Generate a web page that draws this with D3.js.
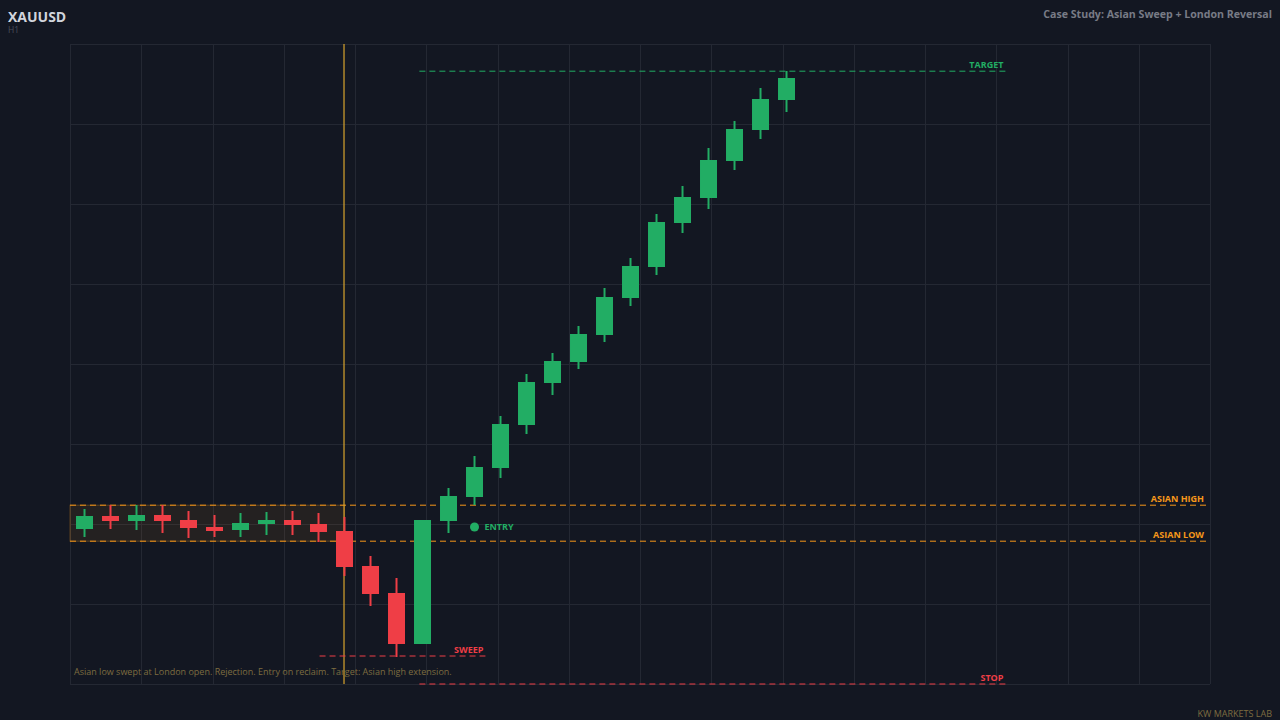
<!DOCTYPE html>
<html>
<head>
<meta charset="utf-8">
<script src="https://cdn.jsdelivr.net/npm/d3@7"></script>
<style>
	html, body { margin: 0; padding: 0; background: #131722; }
	svg { display: block; font-family: "Open Sans", "Noto Sans", sans-serif; }
</style>
</head>
<body>
<svg id="chart" width="1280" height="720"></svg>
<script>
// candles: [open, high, low, close]
const candles = [
	[2338.75, 2343.75, 2336.75, 2342.00],
	[2342.00, 2344.75, 2338.75, 2340.75],
	[2340.75, 2344.75, 2338.50, 2342.25],
	[2342.25, 2344.75, 2337.75, 2340.75],
	[2341.00, 2343.25, 2336.50, 2339.00],
	[2339.25, 2342.25, 2336.75, 2338.25],
	[2338.50, 2342.75, 2336.75, 2340.25],
	[2340.00, 2343.00, 2337.25, 2341.00],
	[2341.00, 2343.25, 2337.25, 2339.75],
	[2340.00, 2342.75, 2335.50, 2338.00],
	[2338.25, 2341.75, 2327.00, 2329.25],
	[2329.50, 2332.00, 2319.50, 2322.50],
	[2322.75, 2326.50, 2306.75, 2310.00],
	[2310.00, 2341.00, 2310.00, 2341.00],
	[2340.75, 2349.00, 2337.75, 2347.00],
	[2346.75, 2357.00, 2344.75, 2354.25],
	[2354.00, 2367.00, 2351.50, 2365.00],
	[2364.75, 2377.50, 2362.50, 2375.50],
	[2375.25, 2382.75, 2372.25, 2380.75],
	[2380.50, 2389.50, 2378.75, 2387.50],
	[2387.25, 2399.00, 2385.50, 2396.75],
	[2396.50, 2406.50, 2394.50, 2404.50],
	[2404.25, 2417.50, 2402.25, 2415.50],
	[2415.25, 2424.50, 2412.75, 2421.75],
	[2421.50, 2434.00, 2418.75, 2431.00],
	[2430.75, 2440.75, 2428.50, 2438.75],
	[2438.50, 2449.00, 2436.25, 2446.25],
	[2446.00, 2453.25, 2443.00, 2451.50]
];

const asianHigh = 2344.7;
const asianLow = 2335.7;
const londonOpenIdx = 10;
const entry = { i: 15, price: 2339.25 };

// horizontal levels: label, price, from/to candle index, kind
const levels = [
	{ label: "TARGET", price: 2453.2, from: 12.88, to: 35.42, kind: "target" },
	{ label: "SWEEP", price: 2307.0, from: 9.04, to: 15.42, kind: "risk" },
	{ label: "STOP", price: 2300.0, from: 12.88, to: 35.42, kind: "risk" }
];

const priceDomain = [2300, 2460];
const priceTicks = [2300, 2320, 2340, 2360, 2380, 2400, 2420, 2440, 2460];
const timeGridCount = 16;

const titleText = "XAUUSD";
const tfText = "H1";
const caseText = "Case Study: Asian Sweep + London Reversal";
const noteText = "Asian low swept at London open. Rejection. Entry on reclaim. Target: Asian high extension.";
const footerText = "KW MARKETS LAB";

const C = {
	bg: "#131722",
	grid: "#242833",
	up: "#22ad64",
	down: "#ef3e46",
	orange: "#f7971a",
	london: "#d9a52e",
	note: "#7d6c40"
};

const svg = d3.select("#chart");
const L = 70, R = 1210, T = 44, B = 684;

const x = d3.scaleLinear().domain([-0.558, 43.288]).range([L, R]);
const y = d3.scaleLinear().domain(priceDomain).range([B, T]);
const gx = d3.scaleLinear().domain([0, timeGridCount]).range([L, R]);

svg.append("rect").attr("width", 1280).attr("height", 720).attr("fill", C.bg);

// grid
const grid = svg.append("g").attr("stroke", C.grid).attr("stroke-width", 1);
grid.selectAll("line.h").data(priceTicks).enter().append("line")
	.attr("x1", L).attr("x2", R)
	.attr("y1", d => Math.round(y(d)) + 0.5).attr("y2", d => Math.round(y(d)) + 0.5);
grid.selectAll("line.v").data(d3.range(0, timeGridCount + 1)).enter().append("line")
	.attr("y1", T).attr("y2", B)
	.attr("x1", d => Math.round(gx(d)) + 0.5).attr("x2", d => Math.round(gx(d)) + 0.5);

// asian range box
svg.append("rect")
	.attr("x", L).attr("y", y(asianHigh))
	.attr("width", x(londonOpenIdx) - L)
	.attr("height", y(asianLow) - y(asianHigh))
	.attr("fill", C.orange).attr("fill-opacity", 0.08)
	.attr("stroke", C.orange).attr("stroke-opacity", 0.3);

// asian high / low lines
[asianHigh, asianLow].forEach((p, k) => {
	svg.append("line")
		.attr("x1", L).attr("x2", 1206)
		.attr("y1", y(p)).attr("y2", y(p))
		.attr("stroke", C.orange).attr("stroke-width", 1)
		.attr("stroke-dasharray", "6,4");
	svg.append("text")
		.attr("x", 1204).attr("y", y(p) - 3)
		.attr("text-anchor", "end").attr("font-size", "9px").attr("font-weight", 700)
		.attr("fill", C.orange)
		.text(k === 0 ? "ASIAN HIGH" : "ASIAN LOW");
});

// london open marker
svg.append("line")
	.attr("x1", x(londonOpenIdx) - 0.5).attr("x2", x(londonOpenIdx) - 0.5)
	.attr("y1", T).attr("y2", B)
	.attr("stroke", C.london).attr("stroke-width", 1.2);

// levels
levels.forEach(lv => {
	const col = lv.kind === "target" ? C.up : C.down;
	svg.append("line")
		.attr("x1", x(lv.from)).attr("x2", x(lv.to))
		.attr("y1", y(lv.price)).attr("y2", y(lv.price))
		.attr("stroke", col).attr("stroke-width", 1)
		.attr("stroke-dasharray", "6,4");
	svg.append("text")
		.attr("x", x(lv.to) - 2).attr("y", y(lv.price) - 3)
		.attr("text-anchor", "end").attr("font-size", "9px").attr("font-weight", 700)
		.attr("fill", col)
		.text(lv.label);
});

// candles
const bw = 17;
const cg = svg.append("g");
const cs = cg.selectAll("g").data(candles).enter().append("g");
cs.append("line")
	.attr("x1", (d, i) => x(i)).attr("x2", (d, i) => x(i))
	.attr("y1", d => y(d[1])).attr("y2", d => y(d[2]))
	.attr("stroke", d => d[3] >= d[0] ? C.up : C.down).attr("stroke-width", 2);
cs.append("rect")
	.attr("x", (d, i) => x(i) - bw / 2)
	.attr("y", d => y(Math.max(d[0], d[3])))
	.attr("width", bw)
	.attr("height", d => Math.max(1, Math.abs(y(d[0]) - y(d[3]))))
	.attr("fill", d => d[3] >= d[0] ? C.up : C.down);

// entry
svg.append("circle")
	.attr("cx", x(entry.i)).attr("cy", y(entry.price)).attr("r", 4.5)
	.attr("fill", C.up);
svg.append("text")
	.attr("x", x(entry.i) + 10).attr("y", y(entry.price) + 3)
	.attr("font-size", "9px").attr("font-weight", 700).attr("fill", C.up)
	.text("ENTRY");

// texts
svg.append("text").attr("x", 8).attr("y", 22)
	.attr("font-size", "14px").attr("font-weight", 700).attr("fill", "#d1d4dc")
	.text(titleText);
svg.append("text").attr("x", 8).attr("y", 33)
	.attr("font-size", "8.5px").attr("fill", "#4a4f5c")
	.text(tfText);
svg.append("text").attr("x", 1272).attr("y", 18)
	.attr("text-anchor", "end").attr("font-size", "10.6px").attr("font-weight", 700).attr("fill", "#787b86")
	.text(caseText);
svg.append("text").attr("x", 74).attr("y", 675)
	.attr("font-size", "9px").attr("fill", C.note)
	.text(noteText);
svg.append("text").attr("x", 1272).attr("y", 717)
	.attr("text-anchor", "end").attr("font-size", "9px").attr("fill", C.note)
	.text(footerText);
</script>
</body>
</html>
